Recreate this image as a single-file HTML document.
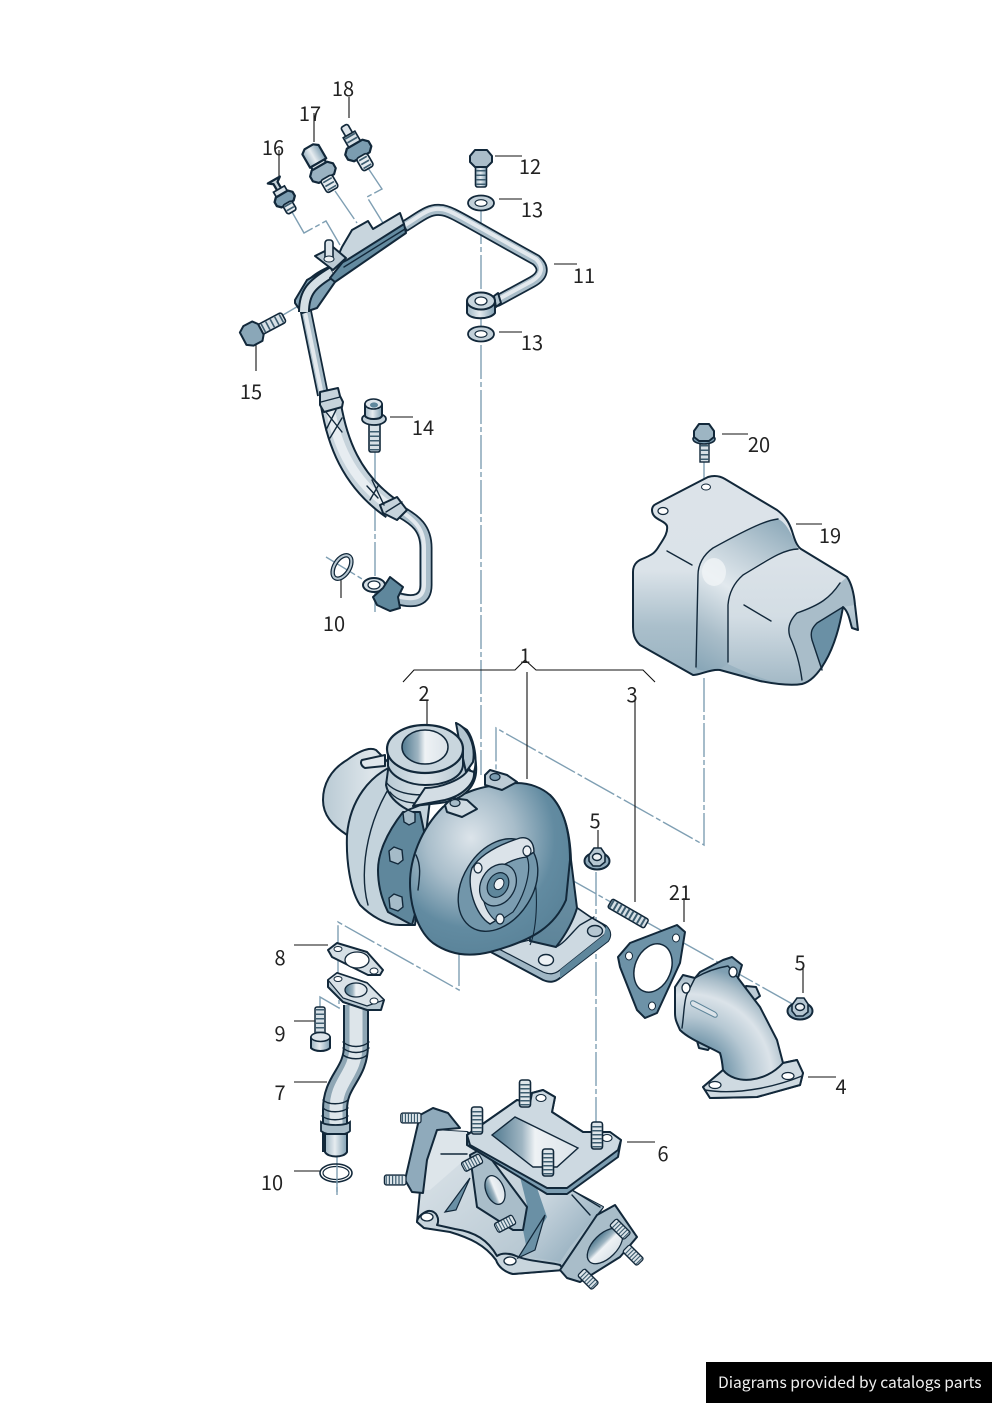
<!DOCTYPE html>
<html><head><meta charset="utf-8"><style>
html,body{margin:0;padding:0;background:#fff}
svg{display:block}
text{font-family:"Noto Sans CJK JP","Liberation Sans",sans-serif;font-size:20px;fill:#222;text-anchor:middle}
.o{stroke:#12283a;stroke-width:2;stroke-linejoin:round;stroke-linecap:round}
.t{fill:none;stroke:#12283a;stroke-width:1.4;stroke-linecap:round;stroke-linejoin:round}
.d{fill:none;stroke:#7f9fb3;stroke-width:1.4;stroke-dasharray:34 3 5 3}
.l{fill:none;stroke:#111;stroke-width:1.1}
</style></head><body>
<svg width="992" height="1403" viewBox="0 0 992 1403" xmlns="http://www.w3.org/2000/svg">
<defs>
<linearGradient id="shield" x1="0" y1="0" x2="0" y2="1"><stop offset="0" stop-color="#dce3e9"/><stop offset=".45" stop-color="#dbe3e9"/><stop offset=".72" stop-color="#aabfcb"/><stop offset="1" stop-color="#96b0bf"/></linearGradient>
<linearGradient id="band" gradientUnits="userSpaceOnUse" x1="790" y1="525" x2="700" y2="670"><stop offset="0" stop-color="#8eaaba"/><stop offset=".3" stop-color="#c3d1da"/><stop offset=".5" stop-color="#e2e9ee"/><stop offset=".78" stop-color="#a9bdc9"/><stop offset="1" stop-color="#88a6b7"/></linearGradient>
<linearGradient id="front" x1="0" y1="0" x2="0" y2="1"><stop offset="0" stop-color="#dce3e9"/><stop offset=".5" stop-color="#d3dde4"/><stop offset="1" stop-color="#a3b9c6"/></linearGradient>
<radialGradient id="volute" cx=".38" cy=".32" r=".7"><stop offset="0" stop-color="#dce4ea"/><stop offset=".4" stop-color="#a8bdca"/><stop offset=".75" stop-color="#628ba1"/><stop offset="1" stop-color="#5a8399"/></radialGradient>
<linearGradient id="vback" x1="0" y1="0" x2="0" y2="1"><stop offset="0" stop-color="#7f9fb2"/><stop offset="1" stop-color="#5d8499"/></linearGradient>
<linearGradient id="housing" x1="0" y1="0" x2="1" y2="0"><stop offset="0" stop-color="#b9cad4"/><stop offset=".5" stop-color="#dde5ea"/><stop offset="1" stop-color="#b7c8d2"/></linearGradient>
<linearGradient id="cyl" x1="0" y1="0" x2="1" y2="0"><stop offset="0" stop-color="#9db5c3"/><stop offset=".45" stop-color="#e6ecf0"/><stop offset="1" stop-color="#7f9fb2"/></linearGradient>
<linearGradient id="hole" x1="0" y1="0" x2="1" y2="0"><stop offset="0" stop-color="#517a90"/><stop offset=".35" stop-color="#9fb5c2"/><stop offset=".5" stop-color="#eef2f5"/><stop offset="1" stop-color="#dbe3e9"/></linearGradient>
<radialGradient id="elbow" gradientUnits="userSpaceOnUse" cx="688" cy="1078" r="112"><stop offset="0" stop-color="#7c9db0"/><stop offset=".35" stop-color="#7c9db0"/><stop offset=".55" stop-color="#b6c8d3"/><stop offset=".75" stop-color="#dbe3e9"/><stop offset=".9" stop-color="#a9bdc9"/><stop offset="1" stop-color="#7f9fb2"/></radialGradient>
<linearGradient id="mani" x1="0" y1="0" x2="1" y2="1"><stop offset="0" stop-color="#dfe6eb"/><stop offset=".55" stop-color="#c2d0d9"/><stop offset="1" stop-color="#a3b9c6"/></linearGradient>
<linearGradient id="mani2" x1="0" y1="0" x2="1" y2="1"><stop offset="0" stop-color="#d6dfe6"/><stop offset="1" stop-color="#86a4b6"/></linearGradient>
<g id="stud"><rect x="-5.500" y="0" width="11" height="27" rx="2.500" fill="#dde5ea" stroke="#12283a" stroke-width="1.600"/><line x1="0" y1="4" x2="0" y2="26" stroke="#3d5d70" stroke-width="9.500" stroke-dasharray="1.500 2.500"/></g>
<g id="nut"><ellipse cx="0" cy="3" rx="12.500" ry="8.500" fill="#8faabb" stroke="#12283a" stroke-width="2"/><path d="M-8 -3 L-3 -10 H4 L8 -4 V4 L3 8 H-4 L-8 3Z" fill="#b6c7d2" stroke="#12283a" stroke-width="1.600"/><ellipse cx="0" cy="-1" rx="4.500" ry="3.500" fill="#eef2f5" stroke="#12283a" stroke-width="1.400"/></g>
<g id="washer"><ellipse cx="0" cy="0" rx="13" ry="7.500" fill="#c2d0d9" stroke="#12283a" stroke-width="1.800"/><ellipse cx="0" cy="0" rx="6" ry="3.300" fill="#fff" stroke="#12283a" stroke-width="1.100"/></g>
</defs>
<rect width="992" height="1403" fill="#fff"/>

<!-- Dash-dot assembly lines -->
<path class="d" d="M481 210V775"/>
<path class="d" d="M375 452V612"/>
<path class="d" d="M704 462V490M704 678V845L496 728V775"/>
<path class="d" d="M459 952V990L338 922V950"/>
<path class="d" d="M338 950V985"/>
<path class="d" d="M527 855L803 1010"/>
<path class="d" d="M596 872V1125"/>
<path class="d" d="M320 1008V997L339 1008V1000"/>
<path class="d" d="M337 1150V1195"/>
<path class="d" d="M292 212L304 233L326 221L340 245"/>
<path class="d" d="M335 191L357 223"/>
<path class="d" d="M368 168L382 189L367 197L383 223"/>
<path class="d" d="M283 315L300 305"/>
<path class="d" d="M326 557L367 582"/>

<!-- Leader lines -->
<path class="l" d="M349 97V118M314 113V142M279 150V176M495 156H522M499 199H522M554 264H577M499 332H522M256 345V371M390 417H413M341 578V598M722 434H748M796 524H822"/>
<path class="l" d="M403 682L414 670H515L525 660L536 670H643L655 682"/>
<path class="l" d="M527 672V779M427 700V724M635 700V902M598 830V850M684 898V922M803 967V993M294 945H328M294 1021H316M294 1082H327M808 1077H836M627 1142H655M294 1171H320"/>

<!-- Oil line 11 upper -->
<path d="M405 226C420 217 428 209 440 210C450 210 460 218 536 260C545 268 543 276 532 282L497 301" fill="none" stroke="#12283a" stroke-width="12" stroke-linecap="round"/>
<path d="M405 226C420 217 428 209 440 210C450 210 460 218 536 260C545 268 543 276 532 282L497 301" fill="none" stroke="#a9bdc9" stroke-width="8.500"/>
<path d="M405 225C420 216 428 208 440 209C450 209 460 217 536 259C544 267 542 275 532 281L497 300" fill="none" stroke="#e3e9ee" stroke-width="4"/>
<!-- Lower pipe and hose -->
<path d="M330 272C312 280 304 290 304 302L323 395" fill="none" stroke="#12283a" stroke-width="12"/>
<path d="M330 272C312 280 304 290 304 302L323 395" fill="none" stroke="#a9bdc9" stroke-width="8.500"/>
<path d="M330 271C312 279 303 290 303 302L322 395" fill="none" stroke="#e3e9ee" stroke-width="4"/>
<path d="M401 512C415 520 426 528 426 548V585C426 600 415 604 396 598" fill="none" stroke="#12283a" stroke-width="13"/>
<path d="M401 512C415 520 426 528 426 548V585C426 600 415 604 396 598" fill="none" stroke="#a9bdc9" stroke-width="9.500"/>
<path d="M401 511C414 520 424 528 424 548V584C424 598 415 601 396 596" fill="none" stroke="#e3e9ee" stroke-width="4"/>
<path d="M331 405C337 440 350 480 392 509" fill="none" stroke="#12283a" stroke-width="22"/>
<path d="M331 405C337 440 350 480 392 509" fill="none" stroke="#c6d3db" stroke-width="18"/>
<path d="M330 408C336 440 349 478 388 505" fill="none" stroke="#e7edf1" stroke-width="9"/>
<path class="o" d="M320 392L338 388L340 396L343 402L342 407L324 412L320 405Z" fill="#c6d3db"/>
<path class="t" d="M321 402L340 397"/>
<path class="o" d="M380 505L397 497L407 510L397 520L383 513Z" fill="#c6d3db"/>
<path class="t" d="M386 512L402 502"/>
<path class="t" d="M326 412L342 432M336 410L326 430M342 418L330 438M367 486L378 498M372 480L384 505M378 486L370 500"/>
<!-- Lower banjo block -->
<ellipse cx="374" cy="585" rx="11" ry="7" fill="#d5dfe5" stroke="#12283a" stroke-width="2"/>
<ellipse cx="374" cy="585" rx="6" ry="4" fill="#fff" stroke="#12283a" stroke-width="1.200"/>
<path class="o" d="M373 597L383 588L390 577L403 587L398 597L400 608L390 611L377 605Z" fill="#5f879c"/>

<!-- Sensor bracket -->
<path class="o" d="M295 300L307 280L330 267L335 282L317 308L302 313L295 303Z" fill="#7fa0b3"/>
<path d="M304 312C304 292 312 284 332 272" fill="none" stroke="#12283a" stroke-width="12"/>
<path d="M304 312C304 292 312 284 332 272" fill="none" stroke="#d5dfe5" stroke-width="8"/>
<path class="o" d="M404 224L406 233L335 282L330 278L346 258Z" fill="#648ba0"/>
<path class="t" d="M344 267L405 229"/>
<path class="o" d="M333 267L342 247L352 230L368 221L373 229L400 213L404 224L347 260Z" fill="#c8d5dd"/>
<path class="o" d="M315 256L333 247L346 258L333 270Z" fill="#bccbd5"/>
<rect x="325" y="240" width="8" height="20" rx="3" fill="#dce4ea" stroke="#12283a" stroke-width="1.600"/>
<ellipse cx="329" cy="259" rx="5" ry="3" fill="#eef2f5" stroke="#12283a" stroke-width="1"/>

<!-- Banjo -->
<path class="o" d="M494 296L498 293L501 303L496 307Z" fill="#b2c4cf"/>
<path class="o" d="M467 301V313C470 320 490 320 495 313V301Z" fill="url(#cyl)"/>
<ellipse cx="481" cy="301" rx="14" ry="8.500" fill="#c8d5dd" stroke="#12283a" stroke-width="2"/>
<ellipse cx="481" cy="301" rx="6" ry="4" fill="#fff" stroke="#12283a" stroke-width="1.200"/>

<!-- Bolt 12 -->
<rect x="475.500" y="165" width="11" height="22" rx="2" fill="url(#cyl)" stroke="#12283a" stroke-width="1.600"/>
<line x1="481" y1="170" x2="481" y2="186" stroke="#3d5d70" stroke-width="9.500" stroke-dasharray="1.500 3"/>
<path class="o" d="M470 156L475 150H487L492 156V162L487 167H475L470 162Z" fill="#aabdc9"/>
<use href="#washer" x="481" y="203"/>
<use href="#washer" x="481" y="334"/>

<!-- Bolt 15 -->
<g transform="translate(252,334) rotate(-28)">
<rect x="6" y="-5.500" width="30" height="11" rx="2.500" fill="#d7e0e6" stroke="#12283a" stroke-width="1.600"/>
<line x1="12" y1="0" x2="35" y2="0" stroke="#3d5d70" stroke-width="9" stroke-dasharray="1.600 3.500"/>
<path class="o" d="M-10 -7L-4 -11H6L10 -6V6L6 11H-4L-10 7Z" fill="#8aa7b8"/>
</g>

<!-- Bolt 14 -->
<rect x="369" y="420" width="11" height="32" rx="2" fill="#d7e0e6" stroke="#12283a" stroke-width="1.600"/>
<line x1="374.500" y1="431" x2="374.500" y2="451" stroke="#3d5d70" stroke-width="9" stroke-dasharray="1.500 3"/>
<ellipse cx="374" cy="419" rx="12" ry="6" fill="#c3d1da" stroke="#12283a" stroke-width="1.800"/>
<path class="o" d="M365 404V416C368 420 380 420 382 416V404Z" fill="url(#cyl)"/>
<ellipse cx="373.500" cy="404" rx="8.500" ry="5" fill="#dce4ea" stroke="#12283a" stroke-width="1.600"/>
<ellipse cx="374" cy="405" rx="4" ry="2.600" fill="#5f879c"/>

<!-- O ring 10 top -->
<ellipse cx="342" cy="567" rx="7.500" ry="13" transform="rotate(32 342 567)" fill="none" stroke="#12283a" stroke-width="4.500"/>
<ellipse cx="342" cy="567" rx="7.500" ry="13" transform="rotate(32 342 567)" fill="none" stroke="#b9c9d3" stroke-width="2"/>

<!-- Sensor 16 -->
<g transform="translate(283,196) rotate(-30) scale(1.150)">
<path class="o" d="M-6 -16H6L2 -13V-5H-2V-13Z" fill="#c6d3db"/>
<rect x="-5.500" y="-7" width="11" height="9" fill="#d7e0e6" stroke="#12283a" stroke-width="1.500"/>
<path class="o" d="M-9 1L-6 -2H6L9 1V5L6 8H-6L-9 5Z" fill="#7b9cb0"/>
<rect x="-4.500" y="7" width="9" height="9" rx="2" fill="#e6ecf0" stroke="#12283a" stroke-width="1.500"/>
<line x1="0" y1="8" x2="0" y2="15" stroke="#3d5d70" stroke-width="7" stroke-dasharray="1.500 2.500"/>
</g>
<!-- Sensor 17 -->
<g transform="translate(321,169) rotate(-30) scale(1.100)">
<path class="o" d="M-8 -20L-4 -23H5L9 -20V-6H-8Z" fill="url(#cyl)"/>
<path class="o" d="M-7 -6H7V0H-7Z" fill="#d7e0e6"/>
<path class="o" d="M-12 1L-8 -3H8L12 1V6L8 10H-8L-12 6Z" fill="#9ab2c1"/>
<rect x="-6" y="9" width="12" height="13" rx="2.500" fill="#e6ecf0" stroke="#12283a" stroke-width="1.500"/>
<line x1="0" y1="11" x2="0" y2="21" stroke="#3d5d70" stroke-width="9" stroke-dasharray="1.500 2.500"/>
</g>
<!-- Sensor 18 -->
<g transform="translate(358,150) rotate(-30) scale(1.120)">
<rect x="-3.500" y="-25" width="7" height="10" rx="2" fill="#dce4ea" stroke="#12283a" stroke-width="1.500"/>
<rect x="-6" y="-16" width="12" height="13" fill="#d7e0e6" stroke="#12283a" stroke-width="1.500"/>
<line x1="0" y1="-15" x2="0" y2="-4" stroke="#3d5d70" stroke-width="10" stroke-dasharray="1.500 2.500"/>
<path class="o" d="M-12 -2L-8 -6H8L12 -2V3L8 7H-8L-12 3Z" fill="#7b9cb0"/>
<rect x="-5.500" y="6" width="11" height="13" rx="2.500" fill="#e6ecf0" stroke="#12283a" stroke-width="1.500"/>
<line x1="0" y1="8" x2="0" y2="18" stroke="#3d5d70" stroke-width="8" stroke-dasharray="1.500 2.500"/>
</g>

<!-- Shield 19 -->
<path d="M652 510C652 507 654 505 656 504L708 477C715 475 720 476 725 479L777 510C785 516 789 522 792 531C795 541 797 546 801 549L847 577C852 584 854 594 855 605L858 630L852 628C850 622 849 612 843 607C840 625 835 645 825 662C818 674 810 682 802 684C790 686 775 684 760 681L720 670C710 669 700 675 693 675L640 645C635 640 633 635 633 627V572C633 565 637 561 642 559C652 555 655 553 659 546C665 537 668 532 667 526C665 520 652 520 652 510Z" fill="url(#shield)"/>
<path d="M778 519C770 520 760 522 713 548C703 555 698 565 698 575L696 669C705 672 712 669 720 669L728 664V605C729 590 735 582 743 575C760 563 775 552 798 549C790 530 785 522 778 519Z" fill="url(#band)"/>
<ellipse cx="714" cy="572" rx="12" ry="14" fill="#f0f4f6" opacity=".8"/>
<path d="M728 664V605C729 590 735 582 743 575C760 563 775 552 798 549L847 577L840 583C830 598 820 605 797 613C790 620 788 628 790 637C796 650 800 665 802 683C790 686 770 684 728 664Z" fill="url(#front)"/>
<path d="M840 583C830 598 820 605 797 613C790 620 788 628 790 637C796 650 800 665 802 683C812 680 820 672 825 662C835 645 840 625 843 607L855 605C854 594 852 584 847 577Z" fill="#a9bdc9"/>
<path d="M843 607L817 623C812 628 810 632 812 640L822 670L825 662C835 645 840 625 843 607Z" fill="#6a90a5"/>
<path class="t" d="M778 519C770 520 760 522 713 548C703 555 698 565 698 575L696 667M798 549C783 549 765 562 743 575C735 582 729 592 728 605V662M840 583C830 598 820 605 797 613C790 620 787 628 790 637C796 650 800 665 802 680M843 607L817 623C812 628 810 632 812 640L822 670M667 551L692 565M744 605L771 621"/>
<path class="o" fill="none" d="M652 510C652 507 654 505 656 504L708 477C715 475 720 476 725 479L777 510C785 516 789 522 792 531C795 541 797 546 801 549L847 577C852 584 854 594 855 605L858 630L852 628C850 622 849 612 843 607C840 625 835 645 825 662C818 674 810 682 802 684C790 686 775 684 760 681L720 670C710 669 700 675 693 675L640 645C635 640 633 635 633 627V572C633 565 637 561 642 559C652 555 655 553 659 546C665 537 668 532 667 526C665 520 652 520 652 510Z"/>
<ellipse cx="663" cy="511" rx="5" ry="3.500" fill="#fff" stroke="#12283a" stroke-width="1.200"/>
<ellipse cx="706" cy="487" rx="4.500" ry="3" fill="#fff" stroke="#12283a" stroke-width="1"/>

<!-- Bolt 20 -->
<rect x="700" y="440" width="9" height="22" fill="#d7e0e6" stroke="#12283a" stroke-width="1.400"/>
<line x1="704.500" y1="445" x2="704.500" y2="462" stroke="#3d5d70" stroke-width="7.500" stroke-dasharray="1.500 3"/>
<ellipse cx="704" cy="439" rx="11" ry="5" fill="#7b9cb0" stroke="#12283a" stroke-width="1.600"/>
<path class="o" d="M694 431L699 424H709L714 431V437L709 441H699L694 437Z" fill="#9db5c3"/>

<!-- Turbo: rear -->
<path class="o" d="M323 800C323 785 330 770 347 760C355 754 368 746 376 750L396 770L420 815L347 835C332 825 323 815 323 800Z" fill="url(#housing)"/>
<path class="o" d="M347 835C350 800 370 775 395 765L430 800L415 925H400C385 925 370 915 360 905C350 890 346 860 347 835Z" fill="#c4d3dc"/>
<path class="t" d="M368 905C358 870 368 810 402 770"/>
<path class="o" d="M403 812C385 835 378 855 378 870C378 885 382 900 388 912L412 925L430 860L420 812Z" fill="#5f879c"/>
<!-- Flange base -->
<path class="o" d="M487 950L543 980C550 983 555 982 560 978L608 941C612 935 610 930 606 926L590 917L577 908L530 945Z" fill="#a0b7c5"/>
<path d="M497 948L543 972C550 975 555 974 560 970L604 935C608 930 606 927 602 924L590 917L577 908L530 940Z" fill="#cdd9e1" stroke="#12283a" stroke-width="1.200"/>
<path d="M560 978L608 941C612 935 610 930 606 926L604 935L560 970Z" fill="#5f879c"/>
<path class="t" d="M556 947C565 943 574 930 580 925L594 917"/>
<ellipse cx="546" cy="960" rx="7.500" ry="5.500" fill="#eef2f5" stroke="#12283a" stroke-width="1.400"/>
<ellipse cx="595" cy="931" rx="7.500" ry="5.500" fill="#b6c7d2" stroke="#12283a" stroke-width="1.400"/>
<!-- Volute -->
<path class="o" d="M550 795C563 808 570 830 571 860L577 908C572 925 563 938 556 947L530 941L527 900L520 800Z" fill="url(#vback)"/>
<path class="o" d="M410 883C410 860 420 830 443 807C460 793 480 785 517 783C530 783 542 788 550 795C563 808 570 830 570 860L566 900C555 925 535 940 490 952C470 957 450 955 433 943C420 933 410 910 410 883Z" fill="url(#volute)"/>
<path class="t" d="M416 855C421 865 420 875 418 890"/>
<path d="M530 860C540 885 537 930 530 945" fill="none" stroke="#12283a" stroke-width="1.100"/>
<!-- Fan flange -->
<ellipse cx="498" cy="885" rx="35" ry="50" transform="rotate(32 498 885)" fill="#7296aa" stroke="#12283a" stroke-width="1.400"/>
<path d="M472 868C480 855 498 845 520 838C530 836 534 844 534 852L525 858C515 858 500 865 488 877L482 888L490 908L500 918L490 924C475 915 466 885 472 868Z" fill="#dbe3e9" stroke="#12283a" stroke-width="1.400"/>
<path d="M488 877C500 865 515 858 527 857C532 870 525 895 513 912L498 922C485 915 477 890 488 877Z" fill="#7b9db1" stroke="#12283a" stroke-width="1.200"/>
<ellipse cx="498" cy="885" rx="17" ry="22" transform="rotate(30 498 885)" fill="#8daabb" stroke="#12283a" stroke-width="1.300"/>
<ellipse cx="498" cy="885" rx="10" ry="13" transform="rotate(30 498 885)" fill="#5f879c" stroke="#12283a" stroke-width="1.200"/>
<ellipse cx="499" cy="884" rx="4.500" ry="6" transform="rotate(30 499 884)" fill="#eef2f5" stroke="#12283a" stroke-width="1"/>
<ellipse cx="527" cy="851" rx="4" ry="5" fill="#eef2f5" stroke="#12283a" stroke-width="1.200"/>
<ellipse cx="478" cy="868" rx="4" ry="5" fill="#eef2f5" stroke="#12283a" stroke-width="1.200"/>
<ellipse cx="500" cy="919" rx="4" ry="5" fill="#eef2f5" stroke="#12283a" stroke-width="1.200"/>
<!-- Bolts on band -->
<g fill="#a5bbc8" stroke="#12283a" stroke-width="1.400">
<path d="M389 851L394 847L402 850L403 860L398 864L390 861Z"/><path d="M389 898L394 894L402 897L403 907L398 911L390 908Z"/><path d="M403 813L408 810L415 813L415 822L409 825L404 822Z"/>
</g>
<!-- Compressor inlet -->
<path class="o" d="M388 770L386 785C388 795 395 803 408 810L418 806L452 790L470 770L454 745H400Z" fill="url(#housing)"/>
<path class="t" d="M386 782C395 795 425 800 452 788M390 792C400 805 425 806 440 798"/>
<path class="o" d="M456 723L467 730C473 738 477 755 475 768C472 785 445 792 430 794L413 806L440 803C465 800 478 785 476 765C475 745 470 730 456 723Z" fill="#c2d0d9"/>
<path class="o" d="M413 806L425 788C440 788 462 780 468 770L474 772C475 782 465 795 445 800Z" fill="#d3dde4"/>
<path class="o" d="M456 723C468 728 476 745 473 762L466 772L460 745Z" fill="#b3c5d0"/>
<path class="o" d="M388 748V766C392 778 410 785 425 785C445 785 462 778 463 765V748Z" fill="url(#housing)"/>
<ellipse cx="425" cy="749" rx="38" ry="24" fill="#c9d6de" stroke="#12283a" stroke-width="2.200"/>
<ellipse cx="425" cy="747" rx="23" ry="17" fill="url(#hole)" stroke="#12283a" stroke-width="1.500"/>
<path class="o" d="M362 760L385 755V766L365 768C361 766 360 762 362 760Z" fill="#dfe6eb"/>
<!-- Ears -->
<path class="o" d="M485 775L490 770L507 775L517 782L502 790L485 785Z" fill="#bccbd5"/>
<ellipse cx="495" cy="777" rx="5" ry="3.500" fill="#7b9cb0" stroke="#12283a" stroke-width="1.200"/>
<path class="o" d="M445 805L452 798L467 800L477 809L462 817L447 812Z" fill="#d0dbe2"/>
<ellipse cx="455" cy="803" rx="5" ry="3.500" fill="#a5bbc8" stroke="#12283a" stroke-width="1.200"/>

<!-- Nut 5 -->
<use href="#nut" x="597" y="858"/>
<!-- Stud 3 -->
<g transform="translate(610,903) rotate(-60)">
<rect x="-5" y="0" width="10" height="42" rx="2" fill="#d7e0e6" stroke="#12283a" stroke-width="1.500"/>
<line x1="0" y1="1" x2="0" y2="41" stroke="#3d5d70" stroke-width="8.500" stroke-dasharray="2 2.500"/>
</g>
<!-- Gasket 21 -->
<path class="o" d="M618 957L630 943L677 925L685 932L680 963L657 1013L645 1018L637 1010L620 967Z" fill="#6d92a7"/>
<ellipse cx="653" cy="968" rx="18" ry="25" transform="rotate(22 653 968)" fill="#fff" stroke="#12283a" stroke-width="1.500"/>
<ellipse cx="629" cy="956" rx="3.500" ry="4" fill="#fff" stroke="#12283a"/>
<ellipse cx="676" cy="938" rx="3.500" ry="4" fill="#fff" stroke="#12283a"/>
<ellipse cx="652" cy="1006" rx="3.500" ry="4" fill="#fff" stroke="#12283a"/>
<!-- Elbow 4 -->
<path class="o" d="M745 993L746 986L756 987L760 996L752 1002Z" fill="#bccbd5"/>
<path class="o" d="M697 1041L699 1048L708 1050L712 1044Z" fill="#aac0cd"/>
<path class="o" d="M675 987L683 975L695 978L700 972L723 960L732 957L742 965L738 978L760 1007L777 1040L783 1063L797 1060L803 1073L800 1085L757 1097L710 1098L703 1087L723 1070C722 1060 721 1056 720 1053C710 1047 690 1040 680 1030C677 1023 675 1020 675 1013Z" fill="url(#elbow)"/>
<path class="t" d="M682 1028C684 1015 684 1000 687 994L695 978C705 972 716 968 728 966L738 978"/>
<path d="M694 1001L715 1012C719 1015 717 1018 714 1017L692 1006C689 1003 691 1000 694 1001Z" fill="#dbe3e9" stroke="#5d8499" stroke-width="1"/>
<path class="o" d="M703 1087L723 1070C735 1085 765 1083 783 1063L797 1060L803 1073L800 1085L757 1097L710 1098Z" fill="#cfdae1"/>
<path class="t" d="M705 1090C740 1096 780 1085 802 1076"/>
<ellipse cx="686" cy="988" rx="4" ry="5" fill="#fff" stroke="#12283a" stroke-width="1.300"/>
<ellipse cx="733" cy="972" rx="4" ry="5" fill="#fff" stroke="#12283a" stroke-width="1.300"/>
<ellipse cx="715" cy="1085" rx="6" ry="3.500" fill="#fff" stroke="#12283a" stroke-width="1.200"/>
<ellipse cx="788" cy="1076" rx="6" ry="3.500" fill="#fff" stroke="#12283a" stroke-width="1.200"/>
<use href="#nut" x="800" y="1008"/>

<!-- Gasket 8 -->
<path class="o" d="M328 950L337 943L367 952L383 970L380 975L368 975L332 957Z" fill="#d5dfe5"/>
<ellipse cx="357" cy="960" rx="12" ry="8" fill="#fff" stroke="#12283a" stroke-width="1.300"/>
<ellipse cx="338" cy="949" rx="4" ry="2.500" fill="#fff" stroke="#12283a"/>
<ellipse cx="374" cy="971" rx="4" ry="3" fill="#fff" stroke="#12283a"/>
<!-- Pipe 7 -->
<path d="M356 1005V1045C356 1075 335 1080 335 1110V1152" fill="none" stroke="#12283a" stroke-width="26"/>
<path d="M356 1005V1045C356 1075 335 1080 335 1110V1152" fill="none" stroke="#8ea6b4" stroke-width="22"/>
<path d="M356 1005V1045C356 1075 336 1080 336 1110V1152" fill="none" stroke="#dde5ea" stroke-width="13"/>
<path class="t" d="M343 1042C350 1048 362 1048 369 1042M343 1048C350 1054 362 1054 369 1048M343 1055C350 1060 362 1060 367 1055M323 1100C328 1105 342 1105 348 1100M323 1108C328 1113 342 1113 348 1108M322 1116C328 1121 342 1121 348 1116"/>
<path d="M321 1122C326 1126 345 1126 350 1122V1131C345 1136 327 1136 321 1131Z" fill="#a9bdc9" stroke="#12283a" stroke-width="1.800"/>
<path class="o" d="M325 1134H347V1152C344 1158 328 1158 325 1152Z" fill="url(#cyl)"/>
<path class="o" d="M328 980L337 973L367 983L384 1000L381 1010L367 1010L343 1002L328 987Z" fill="#b9c9d3"/>
<path d="M328 980L337 973L367 983L384 1000L367 1006L343 998Z" fill="#d9e2e8" stroke="#12283a" stroke-width="1.200"/>
<ellipse cx="356" cy="990" rx="11" ry="7" fill="url(#hole)" stroke="#12283a" stroke-width="1.300"/>
<ellipse cx="338" cy="979" rx="4" ry="2.500" fill="#fff" stroke="#12283a"/>
<ellipse cx="374" cy="1001" rx="4" ry="3" fill="#fff" stroke="#12283a"/>
<!-- Bolt 9 -->
<rect x="315" y="1007" width="10" height="28" rx="2" fill="#d7e0e6" stroke="#12283a" stroke-width="1.500"/>
<line x1="320" y1="1009" x2="320" y2="1034" stroke="#3d5d70" stroke-width="8" stroke-dasharray="1.500 3"/>
<path class="o" d="M311 1037V1048C315 1052 326 1052 330 1048V1037Z" fill="url(#cyl)"/>
<ellipse cx="320.500" cy="1037" rx="9.500" ry="4.500" fill="#dce4ea" stroke="#12283a" stroke-width="1.500"/>
<!-- O ring 10 bottom -->
<ellipse cx="336" cy="1173" rx="16" ry="9" fill="none" stroke="#12283a" stroke-width="1.600"/>
<ellipse cx="336" cy="1173" rx="13" ry="6.500" fill="#fff" stroke="#12283a" stroke-width="1.200"/>
<path d="M337 1165V1195" class="d"/>

<!-- Manifold 6 -->
<path class="o" d="M417 1222L422 1170L430 1130L467 1132L567 1188L603 1207L560 1270L513 1274C504 1272 498 1266 496 1258C485 1240 465 1232 450 1231L424 1228Z" fill="url(#mani)"/>
<path d="M537 1190L567 1188L603 1207L570 1247L560 1262L530 1257L543 1220Z" fill="url(#mani2)"/>
<path d="M520 1177L537 1188L547 1217L527 1250L523 1230L527 1205Z" fill="#6a90a5"/>
<path class="o" d="M417 1222C417 1218 422 1213 428 1211C437 1210 440 1220 437 1225L455 1229C475 1232 488 1240 497 1256C503 1252 512 1254 516 1256C530 1262 550 1262 560 1265L564 1270L513 1274C504 1272 498 1266 496 1260C485 1245 470 1238 450 1232L424 1228Z" fill="#c8d5dd"/>
<path d="M445 1212L470 1178L456 1210ZM518 1258L545 1215L535 1250Z" fill="#6a90a5" stroke="#12283a" stroke-width="1.200"/>
<path d="M435 1130L467 1132L470 1155L430 1190L423 1190Z" fill="#dde5ea"/>
<path class="t" d="M441 1154H467M567 1187L600 1207M572 1195L590 1215"/>
<!-- Left flange -->
<path class="o" d="M420 1115L433 1108L448 1113L460 1128L437 1130L427 1160L423 1193L412 1192L405 1180Z" fill="#8faabb"/>
<use href="#stud" transform="translate(421,1118) rotate(90) scale(.9,.75)"/>
<use href="#stud" transform="translate(406,1180) rotate(90) scale(.9,.8)"/>
<!-- Centre flange -->
<path class="o" d="M470 1155L483 1148L527 1207L523 1230L513 1230L477 1207Z" fill="#a9bdc9"/>
<ellipse cx="495" cy="1190" rx="9" ry="15" transform="rotate(-22 495 1190)" fill="url(#hole)" stroke="#12283a" stroke-width="1.300"/>
<use href="#stud" transform="translate(481,1158) rotate(62) scale(.9,.75)"/>
<use href="#stud" transform="translate(514,1219) rotate(62) scale(.9,.75)"/>
<!-- Right flange -->
<path class="o" d="M560 1270L597 1215L615 1205L637 1237L620 1257L580 1282L567 1278Z" fill="#a9bdc9"/>
<ellipse cx="605" cy="1246" rx="12" ry="22" transform="rotate(45 605 1246)" fill="url(#hole)" stroke="#12283a" stroke-width="1.300"/>
<use href="#stud" transform="translate(613,1222) rotate(-45) scale(.9,.75)"/>
<use href="#stud" transform="translate(626,1248) rotate(-45) scale(.9,.75)"/>
<use href="#stud" transform="translate(581,1272) rotate(-45) scale(.9,.75)"/>
<!-- Top flange -->
<path class="o" d="M467 1135V1145L547 1194H567L618 1157L621 1140L610 1132H583L552 1112L555 1097L543 1090L532 1093L530 1103L517 1100Z" fill="#7b9cb0"/>
<path class="o" d="M467 1135L517 1100L530 1103L532 1093L543 1090L555 1097L552 1112L583 1132L610 1132L621 1140L618 1150L567 1188L547 1188L470 1145Z" fill="#cdd9e1"/>
<path d="M492 1135L515 1117L578 1148L557 1167L533 1167Z" fill="url(#hole)" stroke="#12283a" stroke-width="1.400"/>
<ellipse cx="541" cy="1098" rx="5" ry="3.500" fill="#fff" stroke="#12283a" stroke-width="1.100"/>
<ellipse cx="607" cy="1138" rx="5" ry="3.500" fill="#fff" stroke="#12283a" stroke-width="1.100"/>
<use href="#stud" x="525" y="1080"/>
<use href="#stud" x="477" y="1107"/>
<use href="#stud" x="597" y="1122"/>
<use href="#stud" x="548" y="1149"/>
<ellipse cx="427" cy="1217" rx="6" ry="4" fill="#fff" stroke="#12283a" stroke-width="1.300"/>
<ellipse cx="510" cy="1261" rx="6" ry="4" fill="#fff" stroke="#12283a" stroke-width="1.300"/>

<!-- Labels -->
<text x="343" y="96">18</text><text x="310" y="121">17</text><text x="273" y="155">16</text>
<text x="530" y="174">12</text><text x="532" y="217">13</text><text x="584" y="283">11</text>
<text x="532" y="350">13</text><text x="251" y="399">15</text><text x="423" y="435">14</text>
<text x="334" y="631">10</text><text x="759" y="452">20</text><text x="830" y="543">19</text>
<text x="525" y="663">1</text><text x="424" y="701">2</text><text x="632" y="702">3</text>
<text x="595" y="828">5</text><text x="680" y="900">21</text><text x="800" y="970">5</text>
<text x="280" y="965">8</text><text x="280" y="1041">9</text><text x="280" y="1100">7</text>
<text x="841" y="1094">4</text><text x="663" y="1161">6</text><text x="272" y="1190">10</text>

<rect x="706" y="1362" width="286" height="41" fill="#000"/>
<text x="718" y="1388" style="font-size:15.600px;fill:#f0f0f0;text-anchor:start">Diagrams provided by catalogs parts</text>
</svg>
</body></html>
